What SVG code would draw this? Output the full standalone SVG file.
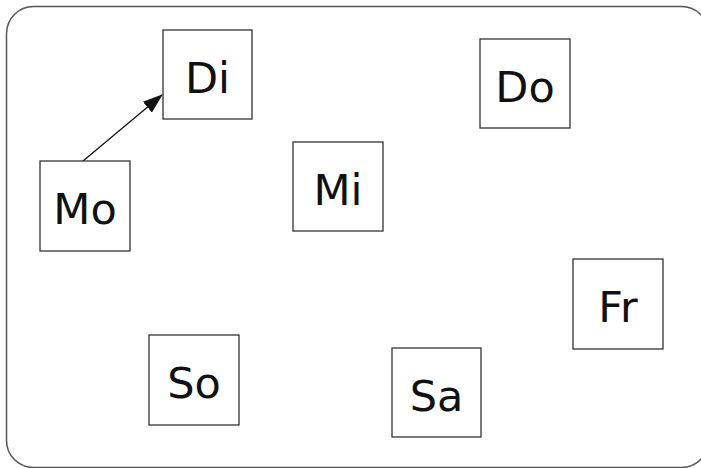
<svg xmlns="http://www.w3.org/2000/svg" width="701" height="468" viewBox="0 0 701 468">
<style>
.node rect{fill:#fff;stroke:#333;stroke-width:1.3}
.node text{font-family:"DejaVu Sans","Liberation Sans",sans-serif;font-size:43px;fill:#111;text-anchor:middle}
.edge{stroke:#111;stroke-width:1.3;fill:none}
</style>
<defs>
<marker id="ah2" markerWidth="20" markerHeight="14" refX="19" refY="7" orient="auto" markerUnits="userSpaceOnUse" viewBox="0 0 20 14">
<path d="M0,0 L20,7 L0,14 Z" fill="#111"/>
</marker>
</defs>
<rect x="6.5" y="6.5" width="702" height="461" rx="27" fill="#fff" stroke="#555" stroke-width="1.5"/>
<g id="connectors">
<line class="edge" x1="83" y1="161" x2="162" y2="95" marker-end="url(#ah2)"/>
</g>
<g id="Di" class="node"><rect x="163" y="30" width="89" height="89"/><text x="207.5" y="93">Di</text></g>
<g id="Mo" class="node"><rect x="40" y="161" width="90" height="90"/><text x="85" y="224">Mo</text></g>
<g id="Do" class="node"><rect x="480" y="39" width="90" height="89"/><text x="525" y="102">Do</text></g>
<g id="Mi" class="node"><rect x="293" y="142" width="90" height="89"/><text x="338" y="205">Mi</text></g>
<g id="Fr" class="node"><rect x="573" y="259" width="90" height="90"/><text x="618" y="322">Fr</text></g>
<g id="So" class="node"><rect x="149" y="335" width="90" height="90"/><text x="194" y="398">So</text></g>
<g id="Sa" class="node"><rect x="392" y="348" width="89" height="89"/><text x="436.5" y="411">Sa</text></g>
</svg>
